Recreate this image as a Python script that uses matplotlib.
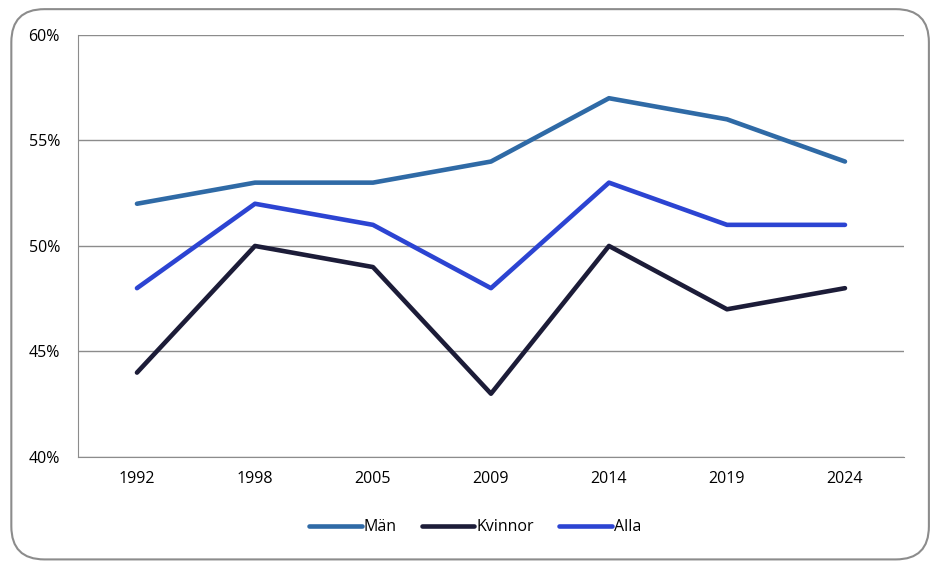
import matplotlib.pyplot as plt
from matplotlib.patches import FancyBboxPatch
from matplotlib.ticker import PercentFormatter

years = ["1992", "1998", "2005", "2009", "2014", "2019", "2024"]
man = [52, 53, 53, 54, 57, 56, 54]
kvinnor = [44, 50, 49, 43, 50, 47, 48]
alla = [48, 52, 51, 48, 53, 51, 51]

plt.rcParams["font.family"] = ["Open Sans", "DejaVu Sans"]

fig = plt.figure(figsize=(9.44, 5.72), dpi=100)

# rounded outer frame
frame = FancyBboxPatch((0.012, 0.022), 0.972, 0.962,
                       boxstyle="round,pad=0,rounding_size=0.035",
                       transform=fig.transFigure, fill=False,
                       edgecolor="#8c8c8c", linewidth=1.5, mutation_aspect=944 / 572)
fig.patches.append(frame)

ax = fig.add_axes([0.0826, 0.201, 0.875, 0.738])
x = range(len(years))
ax.plot(x, man, color="#2f6aa6", lw=3.3, label="Män", solid_capstyle="round")
ax.plot(x, kvinnor, color="#1c1c38", lw=3.3, label="Kvinnor", solid_capstyle="round")
ax.plot(x, alla, color="#2c44d2", lw=3.3, label="Alla", solid_capstyle="round")

ax.set_xlim(-0.5, len(years) - 0.5)
ax.set_ylim(40, 60)
ax.set_yticks([40, 45, 50, 55, 60])
ax.yaxis.set_major_formatter(PercentFormatter(decimals=0))
ax.set_xticks(list(x))
ax.set_xticklabels(years)
ax.grid(axis="y", color="#8c8c8c", lw=1)
ax.set_axisbelow(True)
for side in ["top", "right"]:
    ax.spines[side].set_visible(False)
for side in ["left", "bottom"]:
    ax.spines[side].set_color("#8c8c8c")
ax.tick_params(length=0, labelsize=11.5, colors="black")
ax.tick_params(axis="y", pad=13)
ax.tick_params(axis="x", pad=10)

fig.legend(loc="center", bbox_to_anchor=(0.503, 0.078), ncol=3, frameon=False,
           fontsize=11.5, handlelength=3.3, handletextpad=0.1, columnspacing=1.6)

fig.savefig("out.png", dpi=100)
